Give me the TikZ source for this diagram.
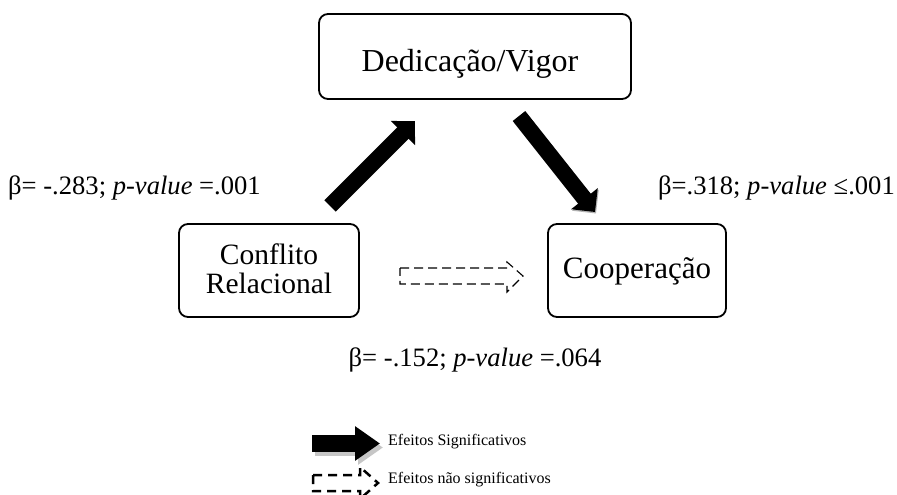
\documentclass[tikz,border=0pt]{standalone}
\usepackage{fontspec}
\setmainfont{Liberation Serif}
\usetikzlibrary{arrows.meta,positioning}
\begin{document}
\begin{tikzpicture}[x=1pt,y=-1pt,
		box/.style={draw,line width=1.8pt,rounded corners=9pt},
		boxtext/.style={align=center,inner sep=0pt},
		stat/.style={inner sep=0pt,font=\fontsize{26.6}{28}\selectfont},
		legtext/.style={inner sep=0pt,anchor=base west,font=\fontsize{16}{18}\selectfont},
		fatarrow/.style={line width=16pt,-{Triangle[length=17pt,width=33pt]}},
		legarrow/.style={line width=17pt,-{Triangle[length=25pt,width=33pt]}},
		hollow/.style={line width=1.1pt,dash pattern=on 9pt off 5pt,line join=miter}]
		\useasboundingbox (0,0) rectangle (897,495);
		% boxes
		\node[box,minimum width=312pt,minimum height=85pt] (dedic) at (475,56.5) {};
		\node[box,minimum width=180pt,minimum height=93pt] (conf) at (269,270.5) {};
		\node[box,minimum width=178pt,minimum height=93pt] (coop) at (637,270.5) {};
		\node[boxtext,anchor=base,font=\fontsize{32}{34}\selectfont] (dedic-t) at (470,72) {Dedicação/Vigor};
		\node[boxtext,anchor=base,font=\fontsize{29.5}{28.5}\selectfont] (conf-t) at (269,293) {Conflito\\Relacional};
		\node[boxtext,anchor=base,font=\fontsize{31}{34}\selectfont] (coop-t) at (637,278) {Cooperação};
		% significant paths
		\coordinate (a1s) at (330,206);
		\coordinate (a1e) at (415,121);
		\coordinate (a2s) at (519,116);
		\coordinate (a2e) at (595,212);
		\draw[fatarrow,gray!60] ([shift={(1,1.5)}]a2s) -- ([shift={(1,1.5)}]a2e);
		\draw[fatarrow] (a1s) -- (a1e);
		\draw[fatarrow] (a2s) -- (a2e);
		% direct path
		\coordinate (d0) at (400,276);
		\draw[hollow] (d0) ++(0,-8) -- ++(107,0) -- ++(0,-6) -- ++(16,14) -- ++(-16,16) -- ++(0,-8) -- ++(-107,0) -- cycle;
		% coefficients
		\node[stat,anchor=base west] (b1) at (8,194) {β= -.283; \textit{p-value} =.001};
		\node[stat,anchor=base east] (b2) at (895,194) {β=.318; \textit{p-value} ≤.001};
		\node[stat,anchor=base] (b3) at (475,366) {β= -.152; \textit{p-value} =.064};
		% legend
		\coordinate (k1s) at (312,443.5);
		\coordinate (k1e) at (380,443.5);
		\draw[legarrow,gray!45] ([shift={(3,4)}]k1s) -- ([shift={(3,4)}]k1e);
		\draw[legarrow] (k1s) -- (k1e);
		\coordinate (k2s) at (313,483);
		\draw[line width=2.5pt,dash pattern=on 9pt off 6pt] (k2s) ++(0,-8) -- ++(47,0) -- ++(0,-8) -- ++(18,16) -- ++(-18,16) -- ++(0,-8) -- ++(-47,0) -- cycle;
		\node[legtext] (k1t) at (388,445) {Efeitos Significativos};
		\node[legtext] (k2t) at (388,483) {Efeitos não significativos};
	\end{tikzpicture}
\end{document}
